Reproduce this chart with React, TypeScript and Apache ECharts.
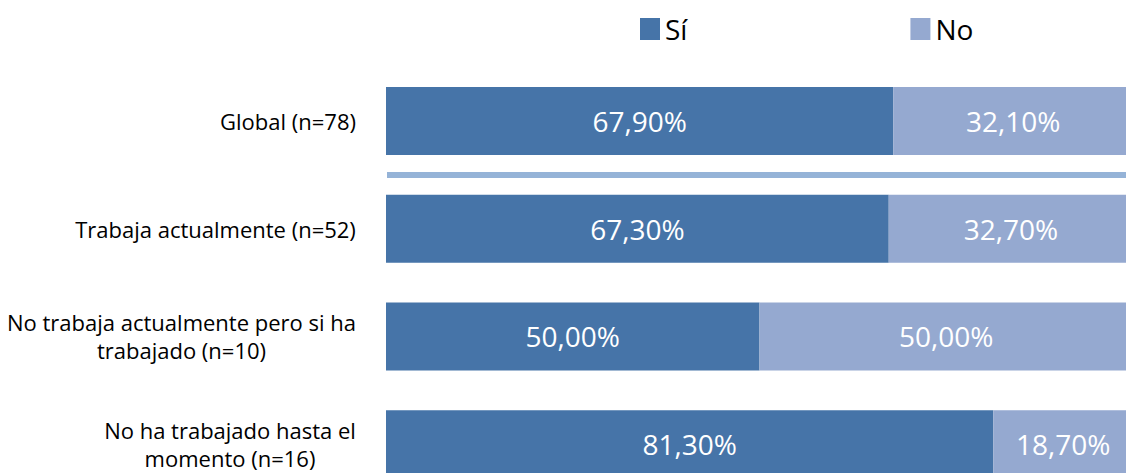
import React, { useEffect, useRef } from "react";
import * as echarts from "echarts";

const categories = [
  "Global (n=78)",
  "Trabaja actualmente (n=52)",
  "No trabaja actualmente pero si ha\ntrabajado (n=10)",
  "No ha trabajado hasta el\nmomento (n=16)",
];
const siValues = [67.9, 67.3, 50.0, 81.3];
const noValues = [32.1, 32.7, 50.0, 18.7];
const seriesNames = ["Sí", "No"];

const SI_COLOR = "#4674A8";
const NO_COLOR = "#95A9D0";
const FONT = "'Open Sans', 'Noto Sans', sans-serif";
const CAT_FONT_SIZE = 22;
const CAT_LINE_HEIGHT = 28;

const fmt = (v: number) => v.toFixed(2).replace(".", ",") + "%";

function measure(text: string): number {
  const c = document.createElement("canvas").getContext("2d");
  if (!c) return text.length * 10;
  c.font = `${CAT_FONT_SIZE}px ${FONT}`;
  return c.measureText(text).width;
}

export default function App() {
  const ref = useRef<HTMLDivElement>(null);
  useEffect(() => {
    document.body.style.margin = "0";
    if (!ref.current) return;
    const chart = echarts.init(ref.current, undefined, { renderer: "svg" });

    const rich: Record<string, any> = {};
    categories.forEach((cat, i) => {
      const lines = cat.split("\n");
      const w = Math.ceil(Math.max(...lines.map(measure))) + 2;
      rich["l" + i] = {
        width: w,
        align: "center",
        fontSize: CAT_FONT_SIZE,
        lineHeight: CAT_LINE_HEIGHT,
        color: "#000",
        fontFamily: FONT,
      };
    });

    chart.setOption({
      animation: false,
      backgroundColor: "#ffffff",
      textStyle: { fontFamily: FONT },
      legend: {
        data: seriesNames,
        left: 635,
        top: 10,
        itemWidth: 20,
        itemHeight: 22,
        itemGap: 223,
        icon: "rect",
        textStyle: { fontSize: 28, color: "#000", fontFamily: FONT, lineHeight: 28 },
      },
      grid: { left: 386, right: 7, top: 67, bottom: 12, containLabel: false },
      xAxis: { type: "value", min: 0, max: 100, show: false },
      yAxis: {
        type: "category",
        inverse: true,
        data: categories,
        axisLine: { show: false },
        axisTick: { show: false },
        splitLine: { show: false },
        axisLabel: {
          margin: 29,
          color: "#000",
          fontSize: CAT_FONT_SIZE,
          fontFamily: FONT,
          lineHeight: CAT_LINE_HEIGHT,
          formatter: (v: string, idx: number) => {
            const i = categories.indexOf(v);
            const key = "l" + (i >= 0 ? i : idx);
            return v
              .split("\n")
              .map((l) => "{" + key + "|" + l + "}")
              .join("\n");
          },
          rich,
        },
      },
      graphic: [
        {
          type: "rect",
          shape: { x: 387, y: 172, width: 760, height: 6 },
          style: { fill: "#95B3D7" },
          silent: true,
        },
      ],
      series: [
        {
          name: seriesNames[0],
          type: "bar",
          stack: "total",
          barWidth: 68,
          data: siValues,
          itemStyle: { color: SI_COLOR },
          label: {
            show: true,
            position: "inside",
            color: "#fff",
            fontSize: 28,
            fontFamily: FONT,
            formatter: (p: any) => fmt(p.value),
          },
        },
        {
          name: seriesNames[1],
          type: "bar",
          stack: "total",
          barWidth: 68,
          data: noValues,
          itemStyle: { color: NO_COLOR },
          label: {
            show: true,
            position: "inside",
            color: "#fff",
            fontSize: 28,
            fontFamily: FONT,
            formatter: (p: any) => fmt(p.value),
          },
        },
      ],
    });
    return () => chart.dispose();
  }, []);
  return (
    <div style={{ width: 1126, height: 473, overflow: "hidden", position: "relative" }}>
      <div ref={ref} style={{ width: 1140, height: 510 }} />
    </div>
  );
}
